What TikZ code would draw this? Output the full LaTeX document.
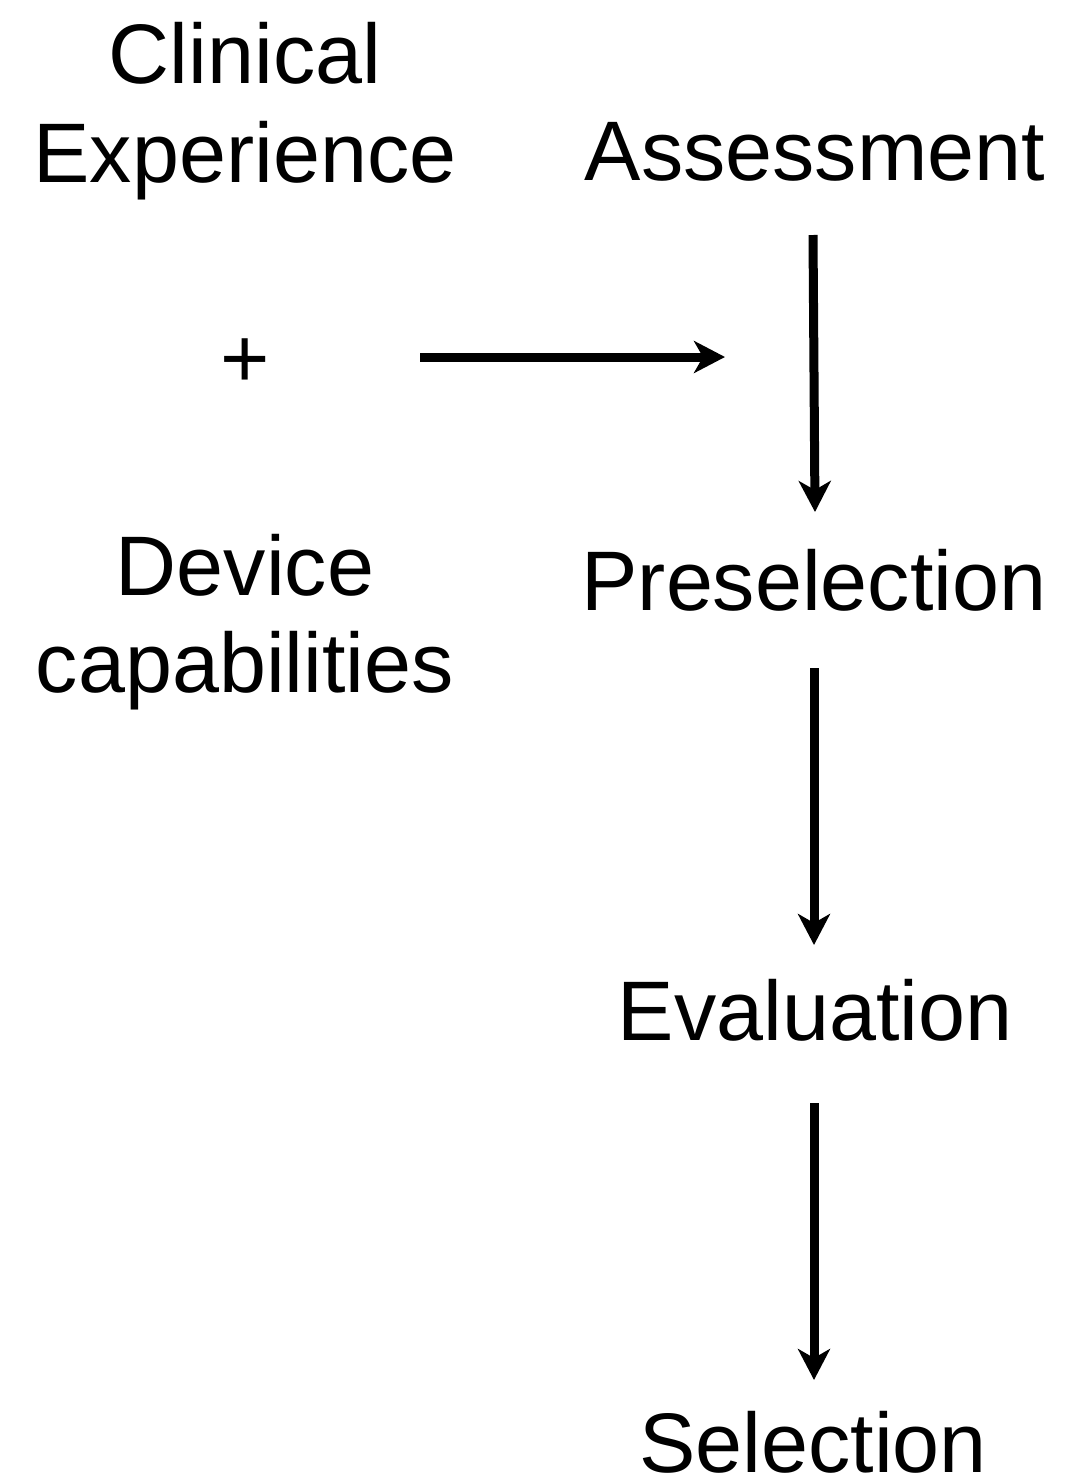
\documentclass[tikz,border=0pt]{standalone}
\usepackage{fontspec}
\setmainfont{Liberation Sans}
\usetikzlibrary{arrows.meta,calc}
\begin{document}
\begin{tikzpicture}[x=1pt,y=-1pt,
  lbl/.style={inner sep=0pt,anchor=base,font=\fontsize{84.5}{100}\selectfont},
  arr/.style={line width=9pt,-{Stealth[length=31pt,width=32pt,inset=9pt]}}]
\useasboundingbox[fill=white] (0,0) rectangle (1066,1478);
\node[lbl] (clin1) at (245,83) {Clinical};
\node[lbl] (clin2) at (245,182) {Experience};
\node[lbl] (plus) at (245,387) {+};
\node[lbl] (dev1) at (245,595) {Device};
\node[lbl] (dev2) at (245,692) {capabilities};
\node[lbl] (assess) at (815,180) {Assessment};
\node[lbl] (presel) at (814,610) {Preselection};
\node[lbl] (eval) at (815,1040) {Evaluation};
\node[lbl] (sel) at (813,1472) {Selection};
\coordinate (hstart) at (420,357);
\coordinate (hend) at (725,357);
\draw[arr] (hstart) -- (hend);
\draw[arr] ($(assess.base)+(-2,55)$) -- ($(presel.base)+(1,-98)$);
\draw[arr] ($(presel.base)+(0,58)$) -- ($(eval.base)+(-1,-95)$);
\draw[arr] ($(eval.base)+(-1,63)$) -- ($(sel.base)+(1,-92)$);
\end{tikzpicture}
\end{document}
